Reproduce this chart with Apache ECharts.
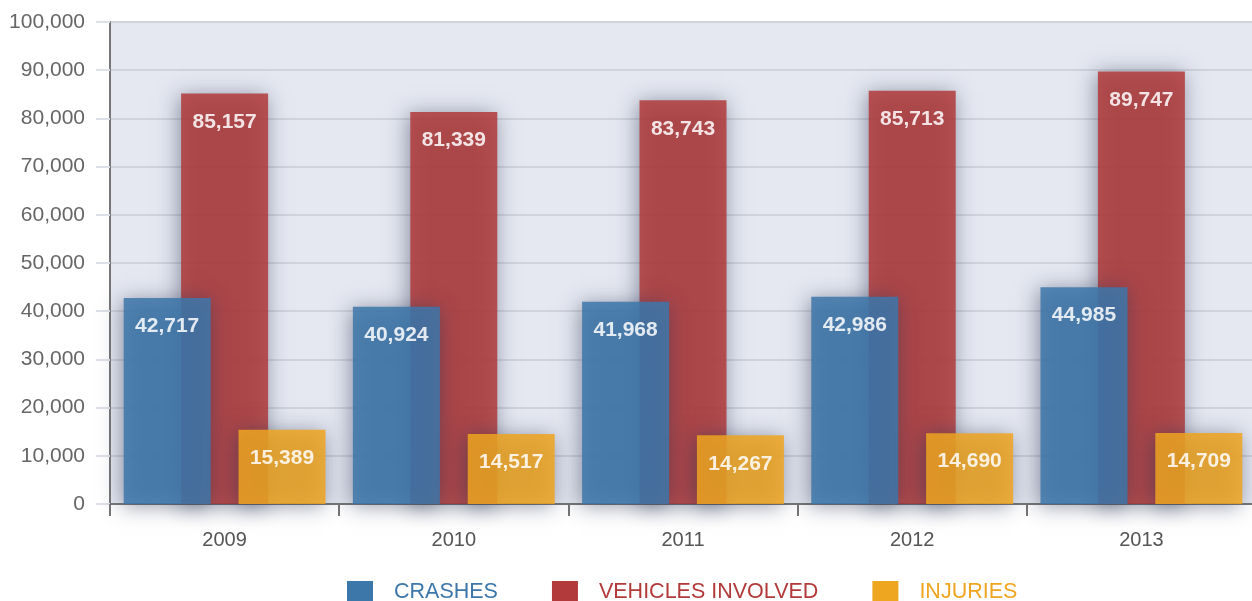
<!DOCTYPE html>
<html>
<head>
<meta charset="utf-8">
<script src="https://cdn.jsdelivr.net/npm/echarts@6/dist/echarts.min.js"></script>
<style>
    html, body { margin: 0; padding: 0; background: #fff; }
    #chart { width: 1252px; height: 601px; }
</style>
</head>
<body>
<div id="chart"></div>
<script>
// chart data
const years = ['2009', '2010', '2011', '2012', '2013'];
const crashes = [42717, 40924, 41968, 42986, 44985];
const vehicles = [85157, 81339, 83743, 85713, 89747];
const injuries = [15389, 14517, 14267, 14690, 14709];

const FONT = '"Liberation Sans Narrow", "Liberation Sans", Arial, sans-serif';
const colors = {
    CRASHES: '#3d77aa',
    'VEHICLES INVOLVED': '#b23a3a',
    INJURIES: '#eea520'
};

let chart = echarts.init(document.getElementById('chart'));

function makeSeries(name, data, z) {
    return {
        name: name,
        type: 'bar',
        data: data,
        z: z,
        barWidth: 87,
        barGap: '-34%',
        itemStyle: {
            color: colors[name],
            opacity: 0.85,
            shadowBlur: 20,
            shadowOffsetX: -2,
            shadowOffsetY: 2,
            shadowColor: 'rgba(45, 55, 85, 0.6)'
        },
        label: {
            show: true,
            position: 'insideTop',
            distance: 18,
            color: '#fff',
            fontFamily: FONT,
            fontWeight: 'bold',
            fontSize: 21,
            formatter: p => p.value.toLocaleString('en-US')
        }
    };
}

chart.setOption({
    animation: false,
    grid: {
        left: 110,
        right: -4,
        top: 22,
        bottom: 97,
        containLabel: false,
        outerBoundsMode: 'none',
        show: true,
        backgroundColor: '#e5e8f1',
        borderWidth: 0
    },
    legend: {
        left: 342,
        top: 576,
        itemWidth: 26,
        itemHeight: 22,
        itemGap: 54,
        icon: 'rect',
        textStyle: {
            fontFamily: FONT,
            fontSize: 21.5,
            padding: [0, 0, 0, 16]
        },
        data: Object.keys(colors).map(k => ({
            name: k,
            itemStyle: { color: colors[k], opacity: 1, shadowBlur: 0 },
            textStyle: { color: colors[k] }
        }))
    },
    xAxis: {
        type: 'category',
        data: years,
        axisLine: { lineStyle: { color: '#777', width: 2 } },
        axisTick: { show: true, length: 12, lineStyle: { color: '#777', width: 2 } },
        axisLabel: {
            color: '#555',
            fontFamily: FONT,
            fontSize: 20,
            margin: 26
        }
    },
    yAxis: {
        type: 'value',
        min: 0,
        max: 100000,
        interval: 10000,
        axisLine: { show: true, lineStyle: { color: '#777', width: 2 } },
        axisTick: { show: true, length: 14, lineStyle: { color: '#dde0e8', width: 2 } },
        splitLine: { lineStyle: { color: '#d0d3dc', width: 2 } },
        axisLabel: {
            color: '#666',
            fontFamily: FONT,
            fontSize: 21,
            margin: 25,
            formatter: v => v.toLocaleString('en-US')
        }
    },
    series: [
        makeSeries('CRASHES', crashes, 3),
        makeSeries('VEHICLES INVOLVED', vehicles, 2),
        makeSeries('INJURIES', injuries, 3)
    ]
});
</script>
</body>
</html>
